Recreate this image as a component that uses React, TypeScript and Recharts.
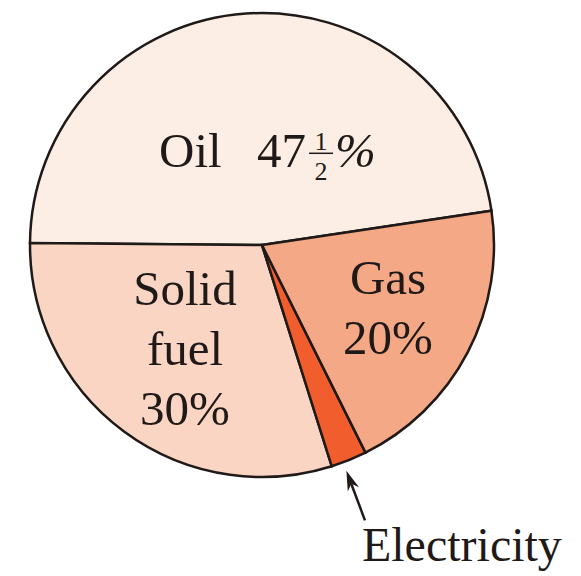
import React from "react";
import { PieChart, Pie, Cell } from "recharts";

// energy sources, in drawing order (counter-clockwise from Oil)
const sources = ["Oil", "Solid fuel", "Electricity", "Gas"];
const shares = [47.5, 30, 2.5, 20];
const labelLines = [["Oil", "47"], ["Solid", "fuel", "30%"], ["Electricity"], ["Gas", "20%"]];

const data = sources.map((name, i) => ({ name, value: shares[i] }));

const COLORS = ["#fdeee5", "#fad5c3", "#f15d2c", "#f5a886"];
const LABEL_RADIUS = [0.4, 0.558, 1, 0.607];
const LABEL_ANGLE_SHIFT = [-6.5, 0, -1.5, 1];
const FONT = "'Liberation Serif', 'DejaVu Serif', serif";
const INK = "#1f1a18";
const RADIAN = Math.PI / 180;

const txt = (size: number, extra: React.CSSProperties = {}): React.CSSProperties => ({
  fontFamily: FONT,
  fontSize: size,
  fill: INK,
  ...extra,
});

const polar = (cx: number, cy: number, r: number, angle: number) => ({
  x: cx + r * Math.cos(-angle * RADIAN),
  y: cy + r * Math.sin(-angle * RADIAN),
});

const renderLabel = (props: any) => {
  const { cx, cy, midAngle, outerRadius, index } = props;
  const angle = midAngle + LABEL_ANGLE_SHIFT[index];
  const lines = labelLines[index];

  if (sources[index] === "Electricity") {
    const tip = polar(cx, cy, outerRadius + 9, angle);
    const tail = polar(cx, cy, outerRadius + 62, angle);
    const len = Math.hypot(tip.x - tail.x, tip.y - tail.y);
    const ux = (tip.x - tail.x) / len;
    const uy = (tip.y - tail.y) / len;
    const nx = -uy;
    const ny = ux;
    const head = `M${tip.x},${tip.y} L${tip.x - ux * 20 + nx * 6},${tip.y - uy * 20 + ny * 6} L${tip.x - ux * 14},${tip.y - uy * 14} L${tip.x - ux * 20 - nx * 6},${tip.y - uy * 20 - ny * 6} Z`;
    return (
      <g>
        <line x1={tail.x} y1={tail.y} x2={tip.x - ux * 14} y2={tip.y - uy * 14} stroke={INK} strokeWidth={2.5} />
        <path d={head} fill={INK} />
        <text x={tail.x - 3} y={tail.y + 41} style={txt(48)}>
          {lines[0]}
        </text>
      </g>
    );
  }

  const p = polar(cx, cy, outerRadius * LABEL_RADIUS[index], angle);

  if (sources[index] === "Oil") {
    const base = p.y + 15;
    return (
      <g>
        <text x={p.x - 107} y={base} style={txt(49)}>{lines[0]}</text>
        <text x={p.x - 9} y={base} style={txt(49)}>{lines[1]}</text>
        <text x={p.x + 55} y={base - 17} style={txt(26)} textAnchor="middle">1</text>
        <line x1={p.x + 43} x2={p.x + 67} y1={base - 14} y2={base - 14} stroke={INK} strokeWidth={1.5} />
        <text x={p.x + 55} y={base + 13} style={txt(26)} textAnchor="middle">2</text>
        <text x={p.x + 69} y={base} style={txt(49, { fontStyle: "italic" })}>%</text>
      </g>
    );
  }

  return (
    <text x={p.x} y={p.y} style={txt(49)} textAnchor="middle">
      {lines.map((t, i) => (
        <tspan key={t} x={p.x} y={p.y + (i - (lines.length - 1) / 2) * 60 + 16}>
          {t}
        </tspan>
      ))}
    </text>
  );
};

export default function App() {
  return (
    <div style={{ position: "absolute", left: 0, top: 0, width: 581, height: 576, background: "#fff" }}>
      <PieChart width={581} height={576} margin={{ top: 0, right: 0, bottom: 0, left: 0 }}>
        <Pie
          data={data}
          dataKey="value"
          nameKey="name"
          cx={262}
          cy={245}
          outerRadius={232}
          startAngle={8.5}
          endAngle={368.5}
          stroke={INK}
          strokeWidth={2.5}
          label={renderLabel}
          labelLine={false}
          isAnimationActive={false}
        >
          {data.map((d, i) => (
            <Cell key={d.name} fill={COLORS[i]} />
          ))}
        </Pie>
      </PieChart>
    </div>
  );
}
